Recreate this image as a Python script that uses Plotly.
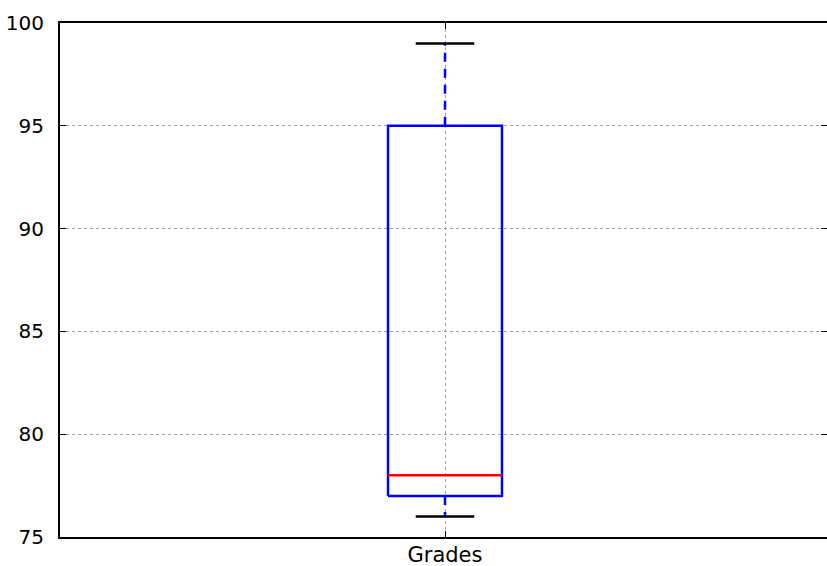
import plotly.graph_objects as go

# Box-plot summary of the grades
categories = ["Grades"]
positions = [1]
whisker_low = [76]
q1 = [77]
median = [78]
q3 = [95]
whisker_high = [99]

box_half = 0.074
cap_half = 0.038

fig = go.Figure()

for pos, lo, a, m, b, hi in zip(positions, whisker_low, q1, median, q3, whisker_high):
    # box outline
    fig.add_trace(go.Scatter(
        x=[pos - box_half, pos + box_half, pos + box_half, pos - box_half, pos - box_half],
        y=[a, a, b, b, a], mode="lines",
        line=dict(color="#0000ff", width=2.5), hoverinfo="skip"))
    # whiskers (dashed)
    fig.add_trace(go.Scatter(
        x=[pos, pos, None, pos, pos], y=[b, hi, None, a, lo], mode="lines",
        line=dict(color="#0000ff", width=2.5, dash="9px,7px"), hoverinfo="skip"))
    # caps
    fig.add_trace(go.Scatter(
        x=[pos - cap_half, pos + cap_half, None, pos - cap_half, pos + cap_half],
        y=[hi, hi, None, lo, lo], mode="lines",
        line=dict(color="#000000", width=2.5), hoverinfo="skip"))
    # median
    fig.add_trace(go.Scatter(
        x=[pos - box_half, pos + box_half], y=[m, m], mode="lines",
        line=dict(color="#ff0000", width=2.5), hoverinfo="skip"))

axis_common = dict(
    showline=True, linecolor="#000000", linewidth=2, mirror="ticks",
    ticks="inside", ticklen=6, tickcolor="#000000", tickwidth=1,
    showgrid=True, gridcolor="#a0a0a0", gridwidth=1, griddash="dot",
    zeroline=False, automargin=False,
)

fig.update_layout(
    width=827, height=566,
    margin=dict(l=60, r=0, t=23, b=29),
    paper_bgcolor="#ffffff", plot_bgcolor="#ffffff",
    showlegend=False,
    xaxis=dict(range=[0.5, 1.4961], tickvals=positions, ticktext=categories,
               ticklabelstandoff=-2,
               tickfont=dict(family="DejaVu Sans", size=21, color="#000000"),
               **axis_common),
    yaxis=dict(range=[75, 100], tickvals=[75, 80, 85, 90, 95, 100],
               ticklabelstandoff=10,
               tickfont=dict(family="DejaVu Sans", size=20, color="#000000"),
               **axis_common),
)

fig.write_html("out.html")
